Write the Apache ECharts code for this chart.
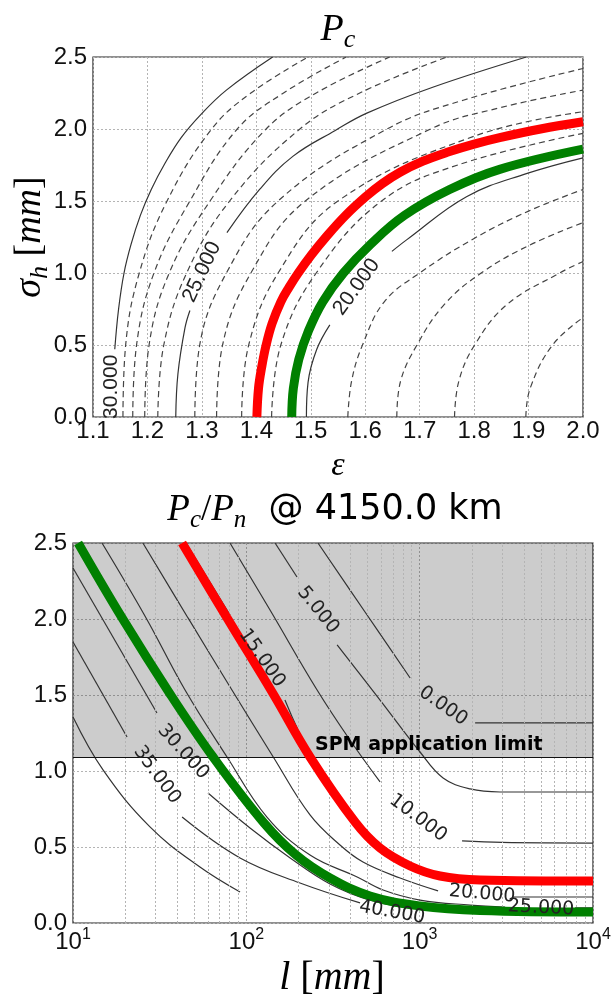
<!DOCTYPE html>
<html><head><meta charset="utf-8">
<script src="https://cdn.jsdelivr.net/npm/echarts@6.0.0/dist/echarts.min.js"></script>
<style>html,body{margin:0;padding:0;background:#fff;}#chart{width:612px;height:1002px;}</style>
</head><body><div id="chart"></div>
<script>
// ================= TOP PANEL: P_c  (x = epsilon, y = sigma_h [mm]) =================
const topXRange = [1.1, 2.0], topXStep = 0.1;
const topYRange = [0, 2.5], topYStep = 0.5;

// solid contour levels (segments split where the inline label sits)
const topSolid30 = [
  [[1.140,0.47],[1.147,0.75],[1.157,1.00],[1.170,1.20],[1.187,1.40],[1.207,1.58],[1.232,1.76],[1.262,1.94],[1.298,2.10],[1.345,2.27],[1.430,2.50]]
];
const topSolid25 = [
  [[1.252,0.00],[1.256,0.30],[1.269,0.62],[1.278,0.74]],
  [[1.346,1.28],[1.406,1.58],[1.467,1.81],[1.545,1.99],[1.603,2.11],[1.724,2.29],[1.896,2.50]]
];
const topSolid20 = [
  [[1.492,0.00],[1.495,0.24],[1.511,0.47],[1.535,0.64]],
  [[1.649,1.15],[1.676,1.23],[1.786,1.53],[1.896,1.69],[2.000,1.80]]
];
// dashed intermediate levels
const topDashed = [
  [[1.155,0],[1.160,0.5],[1.185,1.0],[1.236,1.5],[1.318,2.0],[1.390,2.25],[1.495,2.5]],
  [[1.173,0],[1.180,0.5],[1.212,1.0],[1.278,1.5],[1.365,2.0],[1.450,2.25],[1.565,2.5]],
  [[1.195,0],[1.203,0.5],[1.240,1.0],[1.315,1.5],[1.418,2.0],[1.510,2.25],[1.645,2.5]],
  [[1.219,0],[1.230,0.5],[1.272,1.0],[1.351,1.5],[1.480,2.0],[1.590,2.25],[1.750,2.5]],
  [[1.287,0],[1.296,0.5],[1.345,1.0],[1.440,1.5],[1.640,2.0],[1.780,2.2],[2.000,2.42]],
  [[1.327,0],[1.338,0.5],[1.390,1.0],[1.490,1.5],[1.720,2.0],[1.850,2.15],[2.000,2.27]],
  [[1.373,0],[1.386,0.5],[1.440,1.0],[1.550,1.5],[1.800,1.95],[2.000,2.12]],
  [[1.428,0],[1.445,0.5],[1.510,1.0],[1.630,1.5],[1.770,1.75],[2.000,1.97]],
  [[1.568,0],[1.575,0.25],[1.595,0.5],[1.635,0.8],[1.700,1.0],[1.800,1.24],[1.900,1.43],[2.000,1.58]],
  [[1.658,0],[1.665,0.25],[1.695,0.5],[1.745,0.78],[1.813,1.0],[1.900,1.19],[2.000,1.35]],
  [[1.764,0],[1.772,0.25],[1.801,0.5],[1.860,0.78],[1.957,1.0],[2.000,1.08]],
  [[1.895,0],[1.903,0.2],[1.944,0.5],[2.000,0.69]]
];
const topRed = [[1.401,0],[1.404,0.2],[1.410,0.35],[1.418,0.5],[1.429,0.65],[1.445,0.8],[1.460,0.9],[1.477,1.0],
  [1.501,1.125],[1.528,1.25],[1.564,1.4],[1.601,1.53],[1.631,1.62],[1.664,1.70],[1.705,1.775],[1.752,1.84],
  [1.800,1.895],[1.847,1.94],[1.922,2.0],[2.000,2.05]];
const topGreen = [[1.465,0],[1.468,0.2],[1.478,0.4],[1.496,0.6],[1.522,0.8],[1.560,1.0],[1.610,1.2],[1.672,1.40],
  [1.755,1.58],[1.847,1.72],[2.000,1.86]];
// inline labels: text, x, y, angle(deg)
const topLabels = [['30.000',1.133,0.21,90],['25.000',1.300,1.007,65],['20.000',1.584,0.903,54]];

// ================= BOTTOM PANEL: P_c/P_n (x = l [mm], log; y = sigma_h) =================
const botXRange = [10, 10000];
const botYRange = [0, 2.5], botYStep = 0.5;
const spmLimit = 1.09;

const botContours = {
  c0:  [[[259,2.5],[484,2.046],[881,1.612]], [[2089,1.316],[10000,1.316]]],
  c5:  [[[146.5,2.5],[196,2.276]], [[334,1.829],[591,1.467],[1005,1.125],[1365,0.954],[1955,0.882],[2911,0.862],[10000,0.862]]],
  c10: [[[80.5,2.5],[137,2.059],[256,1.533],[396,1.204],[591,0.928]], [[1756,0.54],[3000,0.53],[10000,0.526]]],
  c15: [[[44.9,2.5],[80.5,2.026]], [[167,1.467],[240,1.092],[440,0.664],[624,0.493],[929,0.375],[1403,0.309],[2382,0.283],[10000,0.276]]],
  c20: [[[25.3,2.5],[46.1,2.007],[82.6,1.533],[143,1.092],[233,0.711],[347,0.513],[471,0.401],[771,0.296],[1277,0.211]], [[3459,0.171],[10000,0.171]]],
  c25: [[[14.7,2.5],[26.4,2.007],[44.3,1.533],[77.4,1.092],[131.5,0.697],[233,0.447],[436,0.303],[615,0.217],[1005,0.151],[1955,0.118],[3112,0.105]], [[7889,0.099],[10000,0.099]]],
  c30: [[[10,2.336],[30.5,1.382]], [[60.1,0.855],[105,0.625],[179,0.428],[304,0.257],[517,0.151],[1005,0.092],[2233,0.066],[10000,0.053]]],
  c35: [[[10,1.849],[20.5,1.224]], [[42.6,0.697],[92,0.428],[204,0.263],[453,0.132]]],
  c40: [[[10,1.355],[14.9,1.007],[27.8,0.632],[54,0.368],[92,0.204]]]
};
const botRed = [[42.6,2.5],[77.4,2.007],[143,1.507],[233,1.092],[424,0.664],[591,0.493],[881,0.375],[1312,0.309],[2233,0.283],[10000,0.276]];
const botGreen = [[10.7,2.5],[19.2,2.007],[36.3,1.507],[64.3,1.092],[126.5,0.658],[193.6,0.447],[304,0.296],[517,0.178],[1005,0.112],[2233,0.082],[10000,0.072]];
const botLabels = [['0.000',1365,1.428,-35],['5.000',259,2.059,-51],['10.000',979,0.691,-37],['15.000',123,1.743,-55],
  ['20.000',2291,0.191,-5],['25.000',5012,0.099,-3],['30.000',43.2,1.125,-48],['35.000',30.5,0.974,-54],['40.000',693,0.07,-10]];
const spmText = ['SPM application limit', 249, 1.17];

// ================= rendering =================
const SANS = "'Liberation Sans', Arial, sans-serif";
const DEJAVU = "'DejaVu Sans', sans-serif";
const SERIF = "'Liberation Serif', 'DejaVu Serif', serif";
const GRIDC = '#b4b4b4';

const minorL = [];
for (let d = 10; d < 10000; d *= 10) for (let k = 2; k <= 9; k++) minorL.push(d * k);

const chart = echarts.init(document.getElementById('chart'), null, {renderer: 'canvas'});
const series = [];
function addSegs(segs, g, style, z) {
  segs.forEach(s => series.push({type: 'line', xAxisIndex: g, yAxisIndex: g, data: s, smooth: 0.4,
    symbol: 'none', silent: true, animation: false, z: z, lineStyle: style}));
}
const thin = {color: '#333', width: 1.2, type: 'solid'};
const dashed = {color: '#444', width: 1.2, type: [6, 4]};
addSegs(topDashed, 0, dashed, 3);
addSegs(topSolid30, 0, thin, 3);
addSegs(topSolid25, 0, thin, 3);
addSegs(topSolid20, 0, thin, 3);
addSegs([topRed], 0, {color: '#ff0000', width: 9}, 5);
addSegs([topGreen], 0, {color: '#008000', width: 9}, 5);

// shaded SPM region + minor log grid
series.push({type: 'line', xAxisIndex: 1, yAxisIndex: 1, data: [[10, 0], [10000, 0]], symbol: 'none',
  silent: true, animation: false, z: 1, lineStyle: {opacity: 0},
  markArea: {silent: true, itemStyle: {color: 'rgba(0,0,0,0.2)'}, data: [[{yAxis: spmLimit}, {yAxis: 2.5}]]},
  markLine: {silent: true, symbol: ['none', 'none'], label: {show: false}, animation: false,
    lineStyle: {color: GRIDC, type: [2, 2], width: 1},
    data: minorL.map(v => ({xAxis: v}))}
});
series.push({type: 'line', xAxisIndex: 1, yAxisIndex: 1, data: [[10, 0], [10000, 0]], symbol: 'none',
  silent: true, animation: false, z: 3, lineStyle: {opacity: 0},
  markLine: {silent: true, symbol: ['none', 'none'], label: {show: false}, animation: false,
    lineStyle: {color: '#111', type: 'solid', width: 1.2}, data: [{yAxis: spmLimit}]}
});
Object.keys(botContours).forEach(k => addSegs(botContours[k], 1, thin, 3));
addSegs([botRed], 1, {color: '#ff0000', width: 9}, 5);
addSegs([botGreen], 1, {color: '#008000', width: 9}, 5);

const tickLabel = {fontSize: 24, fontFamily: SANS, color: '#111'};
const option = {
  animation: false,
  backgroundColor: '#fff',
  grid: [
    {left: 93, top: 57, width: 490, height: 360, show: true, borderColor: '#222', borderWidth: 1.2, outerBoundsMode: 'none', containLabel: false},
    {left: 73, top: 543, width: 520, height: 380, show: true, borderColor: '#222', borderWidth: 1.2, outerBoundsMode: 'none', containLabel: false}
  ],
  xAxis: [
    {type: 'value', gridIndex: 0, min: topXRange[0], max: topXRange[1], interval: topXStep,
      axisLine: {show: false}, axisTick: {show: false},
      axisLabel: Object.assign({margin: 2, formatter: v => v.toFixed(1)}, tickLabel),
      splitLine: {show: true, lineStyle: {color: GRIDC, type: [2, 2], width: 1}}},
    {type: 'log', logBase: 10, gridIndex: 1, min: botXRange[0], max: botXRange[1],
      axisLine: {show: false}, axisTick: {show: false},
      axisLabel: Object.assign({margin: 4, formatter: v => '{b|10}{s|' + Math.round(Math.log10(v)) + '}',
        rich: {b: {fontSize: 24, lineHeight: 30, fontFamily: SANS, color: '#111'},
               s: {fontSize: 16, lineHeight: 16, verticalAlign: 'top', fontFamily: SANS, color: '#111'}}}, tickLabel),
      splitLine: {show: true, lineStyle: {color: GRIDC, type: [2, 2], width: 1}}}
  ],
  yAxis: [
    {type: 'value', gridIndex: 0, min: topYRange[0], max: topYRange[1], interval: topYStep,
      axisLine: {show: false}, axisTick: {show: false},
      axisLabel: Object.assign({margin: 6, formatter: v => v.toFixed(1)}, tickLabel),
      splitLine: {show: true, lineStyle: {color: GRIDC, type: [2, 2], width: 1}}},
    {type: 'value', gridIndex: 1, min: botYRange[0], max: botYRange[1], interval: botYStep,
      axisLine: {show: false}, axisTick: {show: false},
      axisLabel: Object.assign({margin: 6, formatter: v => v.toFixed(1)}, tickLabel),
      splitLine: {show: true, lineStyle: {color: GRIDC, type: [2, 2], width: 1}}}
  ],
  series: series
};
chart.setOption(option);

// ---- text annotations ----
const mctx = document.createElement('canvas').getContext('2d');
function mathText(pieces, cx, cy, rot) {
  const widths = pieces.map(p => { mctx.font = p.font; return mctx.measureText(p.t).width; });
  const total = widths.reduce((a, b) => a + b, 0);
  let x = -total / 2;
  const children = pieces.map((p, i) => {
    const el = {type: 'text', x: x, y: p.dy || 0, silent: true,
      style: {text: p.t, font: p.font, fill: '#000', align: 'left', verticalAlign: 'middle'}};
    x += widths[i];
    return el;
  });
  return {type: 'group', x: cx, y: cy, rotation: rot || 0, z: 100, silent: true, children: children};
}
const I = s => `italic ${s}px ${SERIF}`;
const R = s => `${s}px ${SERIF}`;
const graphics = [];
graphics.push(mathText([{t: 'P', font: I(38)}, {t: 'c', font: I(26), dy: 10}], 338, 30));
graphics.push(mathText([{t: 'P', font: I(37)}, {t: 'c', font: I(25), dy: 10}, {t: '/', font: R(37)},
  {t: 'P', font: I(37)}, {t: 'n', font: I(25), dy: 10}, {t: '  @ 4150.0 km', font: `35px ${DEJAVU}`}], 335, 510));
graphics.push(mathText([{t: 'σ', font: I(38)}, {t: 'h', font: I(26), dy: 10}, {t: ' [', font: R(38)},
  {t: 'mm', font: I(38)}, {t: ']', font: R(38)}], 30, 237, Math.PI / 2));
graphics.push(mathText([{t: 'ε', font: I(34)}], 338, 466));
graphics.push(mathText([{t: 'l', font: I(40)}, {t: ' [', font: R(40)}, {t: 'mm', font: I(40)}, {t: ']', font: R(40)}], 332, 978));

topLabels.forEach(l => {
  const p = chart.convertToPixel({gridIndex: 0}, [l[1], l[2]]);
  graphics.push({type: 'text', x: p[0], y: p[1], rotation: l[3] * Math.PI / 180, z: 100, silent: true,
    style: {text: l[0], font: `21px ${SANS}`, fill: '#222', align: 'center', verticalAlign: 'middle'}});
});
botLabels.forEach(l => {
  const p = chart.convertToPixel({gridIndex: 1}, [l[1], l[2]]);
  graphics.push({type: 'text', x: p[0], y: p[1], rotation: l[3] * Math.PI / 180, z: 100, silent: true,
    style: {text: l[0], font: `19px ${DEJAVU}`, fill: '#222', align: 'center', verticalAlign: 'middle'}});
});
{
  const p = chart.convertToPixel({gridIndex: 1}, [spmText[1], spmText[2]]);
  graphics.push({type: 'text', x: p[0], y: p[1], z: 100, silent: true,
    style: {text: spmText[0], font: `bold 19px ${DEJAVU}`, fill: '#000', align: 'left', verticalAlign: 'middle'}});
}
chart.setOption({graphic: graphics});
</script></body></html>
